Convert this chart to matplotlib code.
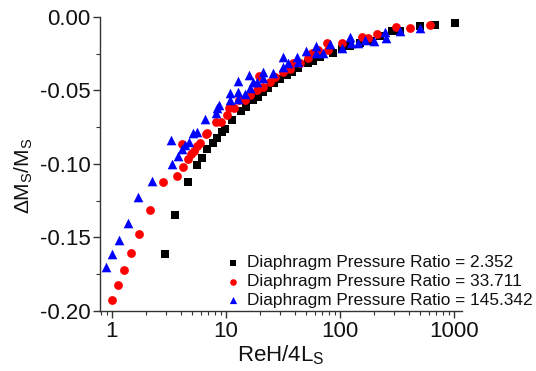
import matplotlib
matplotlib.use("Agg")
import matplotlib.pyplot as plt
from matplotlib.ticker import LogLocator, MultipleLocator, FixedLocator, NullFormatter, FormatStrFormatter

plt.rcParams['font.family'] = ['Liberation Sans', 'DejaVu Sans']
plt.rcParams['mathtext.fontset'] = 'custom'
plt.rcParams['mathtext.rm'] = 'Liberation Sans'
plt.rcParams['mathtext.it'] = 'Liberation Sans:italic'

labels = ["Diaphragm Pressure Ratio = 2.352",
          "Diaphragm Pressure Ratio = 33.711",
          "Diaphragm Pressure Ratio = 145.342"]

x_black = [2.92, 3.57, 4.64, 5.57, 6.16, 6.81, 7.69, 8.34, 9.22, 9.80, 11.3, 13.5, 15.0,
           17.3, 19.1, 21.1, 23.4, 26.4, 29.8, 34.3, 37.9, 42.8, 52.4, 58.0, 66.8, 86.9,
           105, 122, 150, 183, 225, 286, 336, 503, 681, 1020]
y_black = [-0.161, -0.135, -0.112, -0.101, -0.096, -0.090, -0.086, -0.082, -0.078, -0.076,
           -0.070, -0.064, -0.0612, -0.0565, -0.0544, -0.0510, -0.0483, -0.0449, -0.0422,
           -0.0395, -0.0374, -0.0347, -0.0313, -0.0299, -0.0272, -0.0245, -0.0220, -0.0197,
           -0.0180, -0.0163, -0.0130, -0.0095, -0.0095, -0.0061, -0.0054, -0.0041]

x_red = [1.00, 1.129, 1.274, 1.468, 1.723, 2.154, 2.80, 3.72, 4.11, 4.19, 4.64, 4.93, 5.24,
         5.57, 5.91, 6.67, 6.81, 8.17, 9.03, 10.2, 10.6, 11.7, 13.0, 14.6, 16.2, 18.7, 19.4,
         21.1, 24.3, 26.9, 31.6, 36.3, 38.7, 44.5, 52.4, 56.9, 64.2, 77.0, 78.6, 104, 156,
         176, 211, 309, 409, 615]
y_red = [-0.1925, -0.1823, -0.1721, -0.1605, -0.1476, -0.1313, -0.1122, -0.1082, -0.0864,
         -0.1020, -0.0966, -0.0932, -0.0912, -0.0878, -0.0857, -0.0796, -0.0789, -0.0714,
         -0.0714, -0.0667, -0.0619, -0.0619, -0.0565, -0.0565, -0.0531, -0.0497, -0.0401,
         -0.0476, -0.0442, -0.0408, -0.0374, -0.0354, -0.0313, -0.0313, -0.0279, -0.0245,
         -0.0224, -0.0177, -0.0224, -0.0177, -0.0136, -0.0143, -0.0116, -0.0068, -0.0075,
         -0.0054]

x_blue = [0.886, 1.00, 1.152, 1.381, 1.691, 2.24, 3.29, 3.35, 3.79, 4.11, 4.37, 4.73, 5.13,
          5.57, 6.54, 8.17, 8.34, 8.68, 10.8, 10.8, 12.7, 12.7, 12.7, 14.6, 15.9, 16.2, 17.3,
          18.7, 21.1, 21.1, 25.8, 31.6, 31.6, 34.9, 41.9, 42.8, 50.4, 61.6, 61.6, 70.9, 81.8,
          104, 122, 125, 144, 166, 198, 249, 254, 336, 503]
y_blue = [-0.1701, -0.1612, -0.1517, -0.1401, -0.1224, -0.1116, -0.0837, -0.1000, -0.0946,
          -0.0898, -0.0871, -0.0850, -0.0789, -0.0782, -0.0694, -0.0653, -0.0619, -0.0599,
          -0.0565, -0.0517, -0.0558, -0.0510, -0.0435, -0.0524, -0.0395, -0.0483, -0.0442,
          -0.0442, -0.0415, -0.0374, -0.0381, -0.0272, -0.0340, -0.0313, -0.0272, -0.0306,
          -0.0231, -0.0197, -0.0245, -0.0245, -0.0184, -0.0211, -0.0136, -0.0177, -0.0177,
          -0.0156, -0.0163, -0.0102, -0.0143, -0.0095, -0.0075]

x_ticks = [1, 10, 100, 1000]
x_ticklabels = ["1", "10", "100", "1000"]
y_ticks = [-0.20, -0.15, -0.10, -0.05, 0.00]

fig = plt.figure(figsize=(5.36, 3.71), dpi=100)
ax = fig.add_axes([100/536, 1-311/371, 362/536, 294/371])

ax.scatter(x_black, y_black, marker='s', s=28, color='black', linewidths=0, label=labels[0], zorder=3)
ax.scatter(x_red, y_red, marker='o', s=40, color='red', linewidths=0, label=labels[1], zorder=4)
ax.scatter(x_blue, y_blue, marker='^', s=48, color='blue', linewidths=0, label=labels[2], zorder=5)

ax.set_xscale('log')
ax.set_xlim(0.785, 1175)
ax.set_ylim(-0.2, 0.0)
ax.xaxis.set_major_locator(FixedLocator(x_ticks))
ax.set_xticklabels(x_ticklabels)
ax.xaxis.set_minor_locator(LogLocator(base=10, subs=range(2, 10)))
ax.xaxis.set_minor_formatter(NullFormatter())
ax.set_yticks(y_ticks)
ax.yaxis.set_major_formatter(FormatStrFormatter('%.2f'))
ax.yaxis.set_minor_locator(MultipleLocator(0.025))

for s in ['top', 'right']:
    ax.spines[s].set_visible(False)
for s in ['left', 'bottom']:
    ax.spines[s].set_color('#333333')
    ax.spines[s].set_linewidth(1.0)

ax.tick_params(which='major', direction='out', length=5, width=1, color='#333333',
               labelsize=16, labelcolor='#111111', pad=2)
ax.tick_params(which='minor', direction='out', length=3, width=0.8, color='#333333')

ax.set_xlabel(r'ReH/4L$_\mathrm{S}$', fontsize=16, color='#111111', labelpad=1)
ax.set_ylabel(r'$\Delta$M$_\mathrm{S}$/M$_\mathrm{S}$', fontsize=15, color='#111111')
ax.yaxis.set_label_coords(-0.18, 0.46)

leg = ax.legend(loc='lower right', bbox_to_anchor=(1.225, -0.025), frameon=False,
                fontsize=12.4, handletextpad=0.25, labelspacing=0.22, borderaxespad=0.2,
                markerscale=0.75, handlelength=1.2)
for t in leg.get_texts():
    t.set_color('#111111')

fig.savefig('out.png', dpi=100)
